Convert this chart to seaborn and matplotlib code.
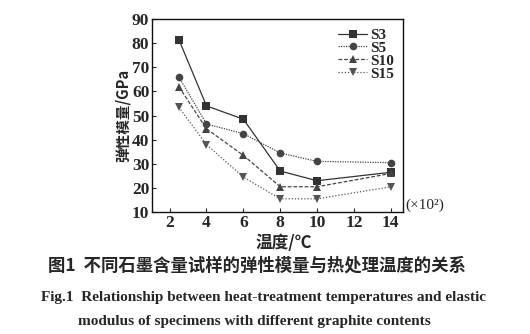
import matplotlib
matplotlib.use("Agg")
import matplotlib.pyplot as plt
import seaborn as sns
import pandas as pd

temps = [2.5, 4, 6, 8, 10, 14]
s3 = [81.5, 54, 48.5, 27, 23, 26.5]
s5 = [66, 46.5, 42.5, 34.5, 31, 30.5]
s10 = [62, 44.5, 33.5, 20.5, 20.5, 26]
s15 = [53.5, 38, 24.5, 15.5, 15.5, 20.5]
series_names = ["S3", "S5", "S10", "S15"]
xticks = [2, 4, 6, 8, 10, 12, 14]
yticks = [10, 20, 30, 40, 50, 60, 70, 80, 90]

rows = []
for name, vals in zip(series_names, [s3, s5, s10, s15]):
    for t, v in zip(temps, vals):
        rows.append({"T": t, "E": v, "S": name})
df = pd.DataFrame(rows)

sns.set_theme(style="ticks")
plt.rcParams['font.family'] = ['Liberation Serif', 'Noto Sans CJK SC', 'DejaVu Sans']

fig = plt.figure(figsize=(5.3, 3.34), dpi=100)
ax = fig.add_axes([0.287, 0.365, 0.473, 0.578])

markers = {"S3": "s", "S5": "o", "S10": "^", "S15": "v"}
dashes = {"S3": "", "S5": (1, 1), "S10": (3, 1.5), "S15": (1, 1.5)}
palette = {"S3": "#333333", "S5": "#444444", "S10": "#444444", "S15": "#555555"}
sns.lineplot(data=df, x="T", y="E", hue="S", style="S", markers=markers, dashes=dashes,
             palette=palette, ax=ax, linewidth=0.9, markersize=5.5, markeredgewidth=0)

ax.set_xlim(1.05, 14.65)
ax.set_ylim(10, 90)
ax.set_xticks(xticks)
ax.set_yticks(yticks)
ax.tick_params(direction="in", length=3, width=0.8, labelsize=12.5, pad=2)
for lab in ax.get_xticklabels() + ax.get_yticklabels():
    lab.set_fontweight("bold")
for sp in ax.spines.values():
    sp.set_linewidth(1.0)
    sp.set_color("#111111")
ax.set_xlabel("")
ax.set_ylabel("弹性模量/GPa", fontsize=10.5, fontweight="bold",
              family=['Noto Sans CJK SC', 'Liberation Serif'], labelpad=1)

leg = ax.legend(loc="upper right", frameon=False, fontsize=11, handlelength=1.9,
                borderaxespad=0.2, labelspacing=-0.05, handletextpad=0.15)
for t in leg.get_texts():
    t.set_fontweight("bold")

fig.text(0.765, 0.385, "(×10²)", fontsize=11, ha="left", va="center")
fig.text(0.535, 0.273, "温度/℃", fontsize=12, ha="center", va="center", fontweight="bold",
         family=['Noto Sans CJK SC', 'DejaVu Sans'])
fig.text(0.484, 0.205, "图1  不同石墨含量试样的弹性模量与热处理温度的关系", fontsize=12.5,
         ha="center", va="center", fontweight="bold",
         family=['Noto Sans CJK SC', 'DejaVu Sans'])
fig.text(0.497, 0.11, "Fig.1  Relationship between heat-treatment temperatures and elastic",
         fontsize=11, ha="center", va="center", fontweight="bold")
fig.text(0.48, 0.038, "modulus of specimens with different graphite contents",
         fontsize=11, ha="center", va="center", fontweight="bold")

fig.savefig("out.png", dpi=100)
